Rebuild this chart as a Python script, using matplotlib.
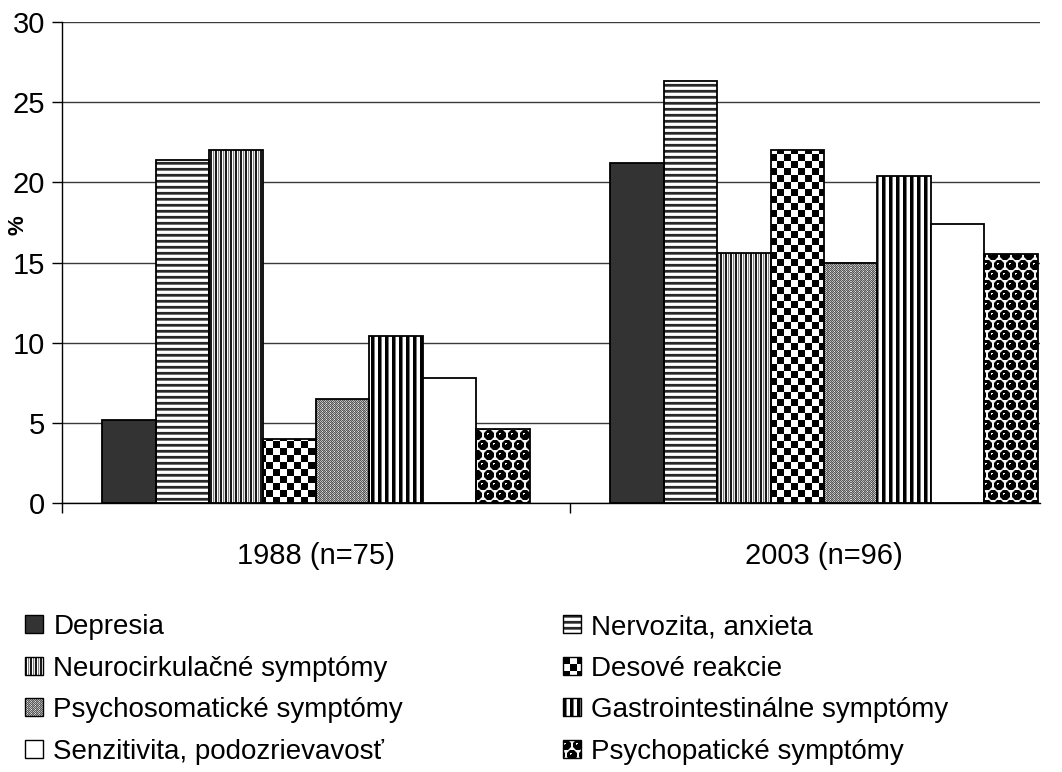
import numpy as np
import matplotlib
matplotlib.use("Agg")
import matplotlib.pyplot as plt
from matplotlib.patches import Rectangle
from matplotlib.legend_handler import HandlerBase

plt.rcParams['font.family'] = ['Liberation Sans', 'DejaVu Sans']

categories = ['1988 (n=75)', '2003 (n=96)']
series = ['Depresia', 'Nervozita, anxieta', 'Neurocirkulačné symptómy',
          'Desové reakcie', 'Psychosomatické symptómy',
          'Gastrointestinálne symptómy', 'Senzitivita, podozrievavosť',
          'Psychopatické symptómy']
values_1988 = [5.2, 21.4, 22.0, 4.0, 6.5, 10.4, 7.8, 4.6]
values_2003 = [21.2, 26.3, 15.6, 22.0, 15.0, 20.4, 17.4, 15.5]
y_ticks = [0, 5, 10, 15, 20, 25, 30]

# ---- texture tiles (grayscale 0..255) ----
def checker(cell):
    t = np.zeros((2 * cell, 2 * cell))
    t[:cell, cell:] = 255
    t[cell:, :cell] = 255
    return t

def balls():
    tw, th = 12, 20
    t = np.full((th, tw), 245.0)
    yy, xx = np.mgrid[0:th, 0:tw]
    centers = []
    for cy, cx in [(5, 3), (15, 9)]:
        for oy in (-th, 0, th):
            for ox in (-tw, 0, tw):
                centers.append((cy + oy, cx + ox))
    for cy, cx in centers:
        d = (yy + 0.5 - cy) ** 2 + (xx + 0.5 - cx) ** 2
        t[d <= 5.4 ** 2] = 120
        t[d <= 4.9 ** 2] = 0
    for cy, cx in [(3, 1), (13, 7)]:
        t[cy, cx] = 255
        t[cy, cx + 1] = 255
        t[cy + 1, cx] = 200
    return t

tiles = [
    None,
    np.array([[40], [40], [110], [255], [255], [235]], dtype=float),
    np.array([[25, 25, 255, 130, 230]], dtype=float),
    checker(7),
    np.array([[90, 190, 90, 150], [190, 90, 190, 90], [90, 190, 90, 150], [150, 90, 230, 90]], dtype=float),
    np.array([[0, 0, 0, 120, 255, 255, 255]], dtype=float),
    None,
    balls(),
]
faces = ['#333333', 'white', 'white', 'white', 'white', 'white', 'white', 'white']

W, H = 1062, 772
fig = plt.figure(figsize=(W / 100, H / 100), dpi=100)
ax = fig.add_axes([62 / W, (H - 503) / H, (1040 - 62) / W, 481 / H])

cat_px = 508.0
x_right = -0.5 + (1040 - 62) / cat_px
ax.set_xlim(-0.5, x_right)
ax.set_ylim(0, 30)

x = np.arange(len(categories))
bw = 53.4 / cat_px
data = np.array([values_1988, values_2003])

bar_groups = []
for i, name in enumerate(series):
    offs = (i - 3.5) * bw
    bars = ax.bar(x + offs, data[:, i], width=bw, facecolor=faces[i],
                  edgecolor='black', linewidth=1.3, zorder=2, label=name)
    bar_groups.append(bars)

fig.canvas.draw()
inv = ax.transData.inverted()
for i, bars in enumerate(bar_groups):
    tile = tiles[i]
    if tile is None:
        continue
    th, tw = tile.shape
    for b in bars:
        bb = b.get_window_extent()
        px0, px1 = int(round(bb.x0)), int(round(bb.x1))
        py0, py1 = int(round(bb.y0)), int(round(bb.y1))
        wpx, hpx = px1 - px0, py1 - py0
        top_row = H - py1
        rows = (np.arange(hpx) + top_row) % th
        cols = (np.arange(wpx) + px0) % tw
        arr = tile[np.ix_(rows, cols)]
        (dx0, dy0) = inv.transform((px0, py0))
        (dx1, dy1) = inv.transform((px1, py1))
        b.set_facecolor('none')
        ax.imshow(arr, cmap='gray', vmin=0, vmax=255, interpolation='nearest',
                  extent=(dx0, dx1, dy0, dy1), aspect='auto', zorder=1.5)

ax.set_xlim(-0.5, x_right)
ax.set_ylim(0, 30)

# axes styling
for s in ['top', 'right']:
    ax.spines[s].set_visible(False)
for s in ['left', 'bottom']:
    ax.spines[s].set_linewidth(1.0)
    ax.spines[s].set_color('black')
ax.set_yticks(y_ticks)
ax.yaxis.grid(True, color='#3a3a3a', linewidth=1.0, zorder=0.5)
ax.set_axisbelow(True)
ax.tick_params(axis='y', direction='out', length=7, width=1, pad=5, labelsize=21)
ax.set_xticks(x)
ax.set_xticklabels(categories)
ax.tick_params(axis='x', which='major', length=0, pad=28, labelsize=21)
ax.set_xticks([-0.5, 0.5], minor=True)
ax.tick_params(axis='x', which='minor', direction='out', length=7, width=1)
fig.text(18 / W, 1 - 225 / H, '%', rotation=90, fontweight='bold', fontsize=16,
         ha='center', va='center')


class TextureHandler(HandlerBase):
    def __init__(self, tile, face):
        super().__init__()
        self.tile = tile
        self.face = face

    def create_artists(self, legend, orig_handle, xdescent, ydescent,
                       width, height, fontsize, trans):
        side = 13.0
        n = 18
        s = side / n
        x0 = -xdescent
        y0 = -ydescent + (height - side) / 2
        arts = []
        if self.tile is None:
            arts.append(Rectangle((x0, y0), side, side, facecolor=self.face,
                                  edgecolor='none', transform=trans))
        else:
            th, tw = self.tile.shape
            for r in range(n):
                for c in range(n):
                    v = self.tile[r % th, c % tw] / 255.0
                    arts.append(Rectangle((x0 + c * s, y0 + (n - 1 - r) * s), s, s,
                                          facecolor=(v, v, v), edgecolor='none',
                                          linewidth=0, antialiased=False,
                                          transform=trans))
        arts.append(Rectangle((x0, y0), side, side, facecolor='none',
                              edgecolor='black', linewidth=1.0, transform=trans))
        return arts


def make_legend(idx, xpix):
    handles = [bar_groups[i][0] for i in idx]
    labels = [series[i] for i in idx]
    hmap = {bar_groups[i][0]: TextureHandler(tiles[i], faces[i]) for i in idx}
    leg = fig.legend(handles, labels, handler_map=hmap, loc='upper left',
                     bbox_to_anchor=(xpix / W, 1 - 614 / H), frameon=False,
                     fontsize=20, handlelength=0.47, handleheight=0.7,
                     handletextpad=0.55, labelspacing=0.56, borderpad=0,
                     borderaxespad=0)
    return leg

make_legend([0, 2, 4, 6], 25)
make_legend([1, 3, 5, 7], 563)

fig.savefig('out.png', dpi=100)
